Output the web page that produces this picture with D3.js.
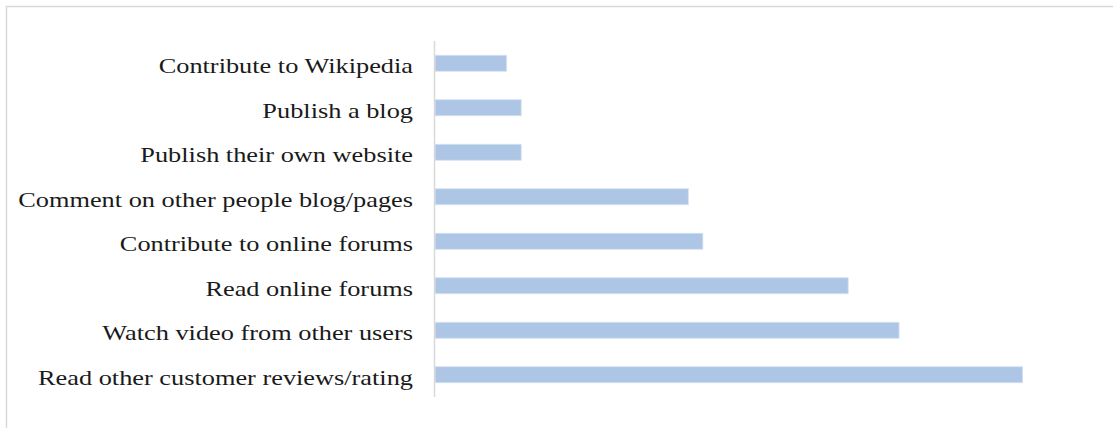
<!DOCTYPE html>
<html>
<head>
<meta charset="utf-8">
<script src="https://cdn.jsdelivr.net/npm/d3@7"></script>
<style>
  html, body { margin: 0; padding: 0; background: #ffffff; }
  svg { display: block; }
</style>
</head>
<body>
<svg id="chart" width="1113" height="428"></svg>
<script>
// Online activities, listed top to bottom
const categories = [
  "Contribute to Wikipedia",
  "Publish a blog",
  "Publish their own website",
  "Comment on other people blog/pages",
  "Contribute to online forums",
  "Read online forums",
  "Watch video from other users",
  "Read other customer reviews/rating"
];
// Share of respondents (%)
const values = [10, 12, 12, 35, 37, 57, 64, 81];

const W = 1113, H = 428;
const svg = d3.select("#chart");

// Chart frame (only the top and left edges fall inside the view)
svg.append("rect")
  .attr("x", 6.5).attr("y", 6.5)
  .attr("width", W + 20).attr("height", H + 20)
  .attr("fill", "#ffffff")
  .attr("stroke", "#d9d9d9")
  .attr("stroke-width", 1.5);

const plot = { left: 434, right: 1088, top: 41, bottom: 397 };

const x = d3.scaleLinear().domain([0, 90]).range([plot.left, plot.right]);
const y = d3.scaleBand()
  .domain(categories)
  .range([plot.top, plot.bottom])
  .paddingInner(0.64)
  .paddingOuter(0.32);

const rows = categories.map((c, i) => ({ cat: c, val: values[i] }));

// Bars
svg.append("g")
  .selectAll("rect")
  .data(rows)
  .join("rect")
  .attr("x", x(0) + 1)
  .attr("y", d => y(d.cat))
  .attr("width", d => x(d.val) - x(0) - 1)
  .attr("height", y.bandwidth())
  .attr("fill", "#adc6e6")
  .attr("stroke", "#d6e2f2")
  .attr("stroke-width", 0.8);

// Category axis: line only, labels to the left
const axis = d3.axisLeft(y).tickSize(0).tickPadding(21);
const gAxis = svg.append("g")
  .attr("transform", `translate(${x(0)},0)`)
  .call(axis)
  .attr("font-family", null)
  .attr("font-size", null);
gAxis.select(".domain")
  .attr("stroke", "#d9d9d9")
  .attr("stroke-width", 1.5)
  .attr("d", `M0.5,${plot.top}V${plot.bottom}`);

const labels = gAxis.selectAll(".tick text")
  .style("font-family", "'Liberation Serif', 'DejaVu Serif', serif")
  .style("font-size", "22px")
  .attr("fill", "#1a1a1a")
  .attr("dy", "0.45em");

// Stretch the labels so the longest one spans the same width as a Cambria set
const target = 375;
const longestNode = labels.nodes()[labels.size() - 1];
let sx = 1;
for (let k = 0; k < 3; k++) {
  labels.attr("transform", `scale(${sx},1)`).attr("x", -21 / sx);
  const w = longestNode.getBoundingClientRect().width;
  if (w > 0) sx = sx * target / w;
}
labels.attr("transform", `scale(${sx},1)`).attr("x", -21 / sx);
</script>
</body>
</html>
